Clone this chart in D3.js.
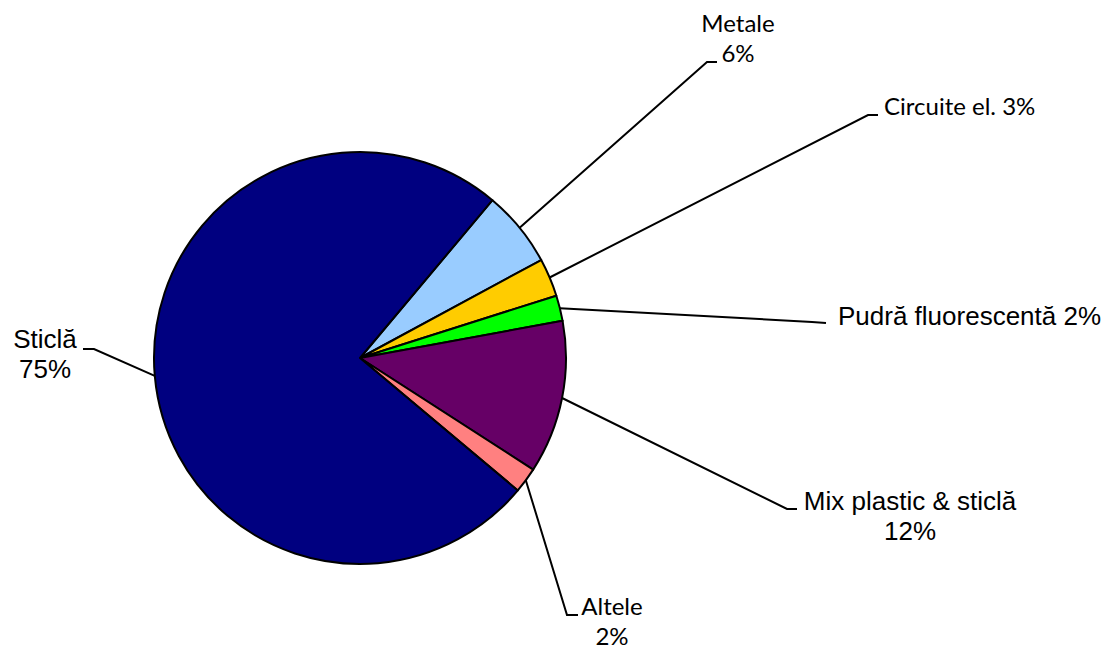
<!DOCTYPE html>
<html>
<head>
<meta charset="utf-8">
<script src="https://cdn.jsdelivr.net/npm/d3@7"></script>
<style>
  body { margin: 0; background: #fff; }
  .calibri { font-family: Lato, "Open Sans", sans-serif; font-size: 24px; }
  .arial { font-family: "Liberation Sans", Arial, sans-serif; font-size: 26px; }
</style>
</head>
<body>
<svg id="chart" width="1114" height="651"></svg>
<script>
// data
const categories = ['Metale', 'Circuite el.', 'Pudră fluorescentă', 'Mix plastic & sticlă', 'Altele', 'Sticlă'];
const values = [6, 3, 2, 12, 2, 75];
const colors = ['#99ccff', '#ffcc00', '#00ff00', '#660066', '#ff8080', '#000080'];

// label placement (hand placed, like the original chart)
const labelLayout = [
  { lines: 2, font: 'calibri', anchor: 'middle', x: 738, y: 32, elbow: [707, 62], end: [717, 62] },
  { lines: 1, font: 'calibri', anchor: 'start', x: 884, y: 115, elbow: [868, 115], end: [878, 115] },
  { lines: 1, font: 'arial', anchor: 'start', x: 838, y: 325, elbow: [812, 322], end: [826, 323] },
  { lines: 2, font: 'arial', anchor: 'middle', x: 910, y: 510, elbow: [787, 509], end: [797, 509] },
  { lines: 2, font: 'calibri', anchor: 'middle', x: 612, y: 615, elbow: [567, 615], end: [578, 615] },
  { lines: 2, font: 'arial', anchor: 'middle', x: 45, y: 348, elbow: [94, 349], end: [83, 349] }
];

const cx = 360;
const cy = 358;
const radius = 206;
const lineHeight = 30;

const svg = d3.select('#chart');

const data = categories.map((c, i) => ({ name: c, value: values[i], color: colors[i], layout: labelLayout[i] }));

const pie = d3.pie()
  .sort(null)
  .value(d => d.value)
  .startAngle(40 * Math.PI / 180)
  .endAngle(40 * Math.PI / 180 + 2 * Math.PI);

const arc = d3.arc().innerRadius(0).outerRadius(radius);
const edge = d3.arc().innerRadius(radius).outerRadius(radius);

const g = svg.append('g').attr('transform', `translate(${cx},${cy})`);
const arcs = pie(data);

g.selectAll('path.slice')
  .data(arcs)
  .join('path')
  .attr('class', 'slice')
  .attr('d', arc)
  .attr('fill', d => d.data.color)
  .attr('stroke', '#000')
  .attr('stroke-width', 2)
  .attr('stroke-linejoin', 'round');

// leader lines
svg.selectAll('polyline.leader')
  .data(arcs)
  .join('polyline')
  .attr('class', 'leader')
  .attr('fill', 'none')
  .attr('stroke', '#000')
  .attr('stroke-width', 2)
  .attr('points', d => {
    const p = edge.centroid(d);
    const l = d.data.layout;
    return [[p[0] + cx, p[1] + cy], l.elbow, l.end].map(q => q.join(',')).join(' ');
  });

// labels
const labels = svg.selectAll('text.label')
  .data(arcs)
  .join('text')
  .attr('class', d => 'label ' + d.data.layout.font)
  .attr('text-anchor', d => d.data.layout.anchor)
  .attr('fill', '#000');

labels.each(function(d) {
  const l = d.data.layout;
  const pct = Math.round(d.data.value) + '%';
  const rows = l.lines === 2 ? [d.data.name, pct] : [d.data.name + ' ' + pct];
  d3.select(this).selectAll('tspan')
    .data(rows)
    .join('tspan')
    .attr('x', l.x)
    .attr('y', (r, i) => l.y + i * lineHeight)
    .text(r => r);
});
</script>
</body>
</html>
